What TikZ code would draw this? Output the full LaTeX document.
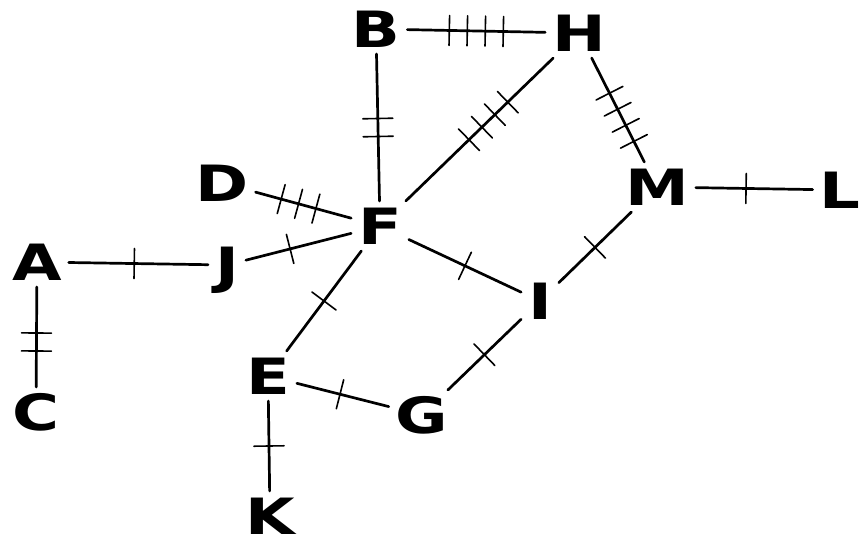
\documentclass[tikz,border=0pt]{standalone}
\usepackage{fontspec}
\newfontfamily\labfont[FakeStretch=1.28]{DejaVu Sans Bold}
\usetikzlibrary{decorations.markings}
\begin{document}
\begin{tikzpicture}[x=1pt,y=-1pt,
  lab/.style={font=\labfont\fontsize{50}{50}\selectfont, text height=36pt, text depth=0pt, inner sep=7pt, outer sep=0pt},
  edge/.style={line width=2.7pt, line cap=round},
  tickline/.style={line width=1.6pt},
  tk/.style 2 args={postaction={decorate,decoration={markings,mark=at position #2 with {\foreach \i in {1,...,#1}{\draw[tickline] ({(\i-(#1+1)/2)*18pt},-15pt) -- ({(\i-(#1+1)/2)*18pt},15pt);}}}}}]
\useasboundingbox (0,0) rectangle (859,549);
\node[lab] (B) at (376,29) {B};
\node[lab] (H) at (579,33) {H};
\node[lab] (M) at (657,187) {M};
\node[lab] (L) at (840,190) {L};
\node[lab] (D) at (222,183) {D};
\node[lab] (F) at (380,226) {F};
\node[lab] (A) at (37,262) {A};
\node[lab] (J) at (227,265) {J};
\node[lab] (C) at (36,412) {C};
\node[lab] (E) at (268,376) {E};
\node[lab] (G) at (422,415) {G};
\node[lab] (I) at (540,301) {I};
\node[lab] (K) at (270,516) {K};
\draw[edge, tk={4}{0.5}] (B) -- (H);
\draw[edge, tk={2}{0.5}] (B) -- (F);
\draw[edge, tk={4}{0.56}] (F) -- (H);
\draw[edge, tk={4}{0.57}] (H) -- (M);
\draw[edge, tk={1}{0.43}] (M) -- (L);
\draw[edge, tk={3}{0.45}] (D) -- (F);
\draw[edge, tk={1}{0.42}] (J) -- (F);
\draw[edge, tk={1}{0.47}] (A) -- (J);
\draw[edge, tk={2}{0.55}] (A) -- (C);
\draw[edge, tk={1}{0.5}] (F) -- (I);
\draw[edge, tk={1}{0.5}] (F) -- (E);
\draw[edge, tk={1}{0.47}] (E) -- (G);
\draw[edge, tk={1}{0.5}] (G) -- (I);
\draw[edge, tk={1}{0.5}] (I) -- (M);
\draw[edge, tk={1}{0.5}] (E) -- (K);
\end{tikzpicture}
\end{document}
